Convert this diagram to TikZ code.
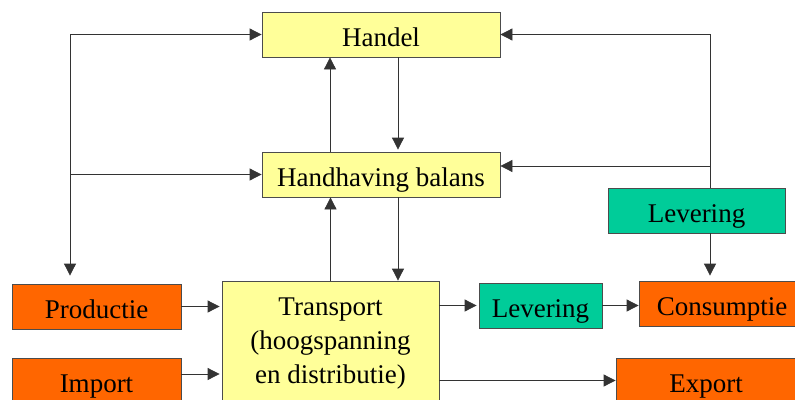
\documentclass[tikz,border=0pt]{standalone}
\usepackage{fontspec}
\setmainfont{Liberation Serif}
\usetikzlibrary{arrows.meta}
\definecolor{boxyellow}{HTML}{FFFF99}
\definecolor{boxorange}{HTML}{FF6600}
\definecolor{boxgreen}{HTML}{00CC99}
\begin{document}
\begin{tikzpicture}[x=1pt,y=-1pt,line width=0.8pt,>={Triangle[length=12pt,width=12pt]},
  box/.style={draw=black!70,line width=0.8pt,minimum height=45pt,inner sep=0pt,
    font={\fontsize{27}{34}\selectfont}},
  single/.style={text height=23pt,text depth=0pt},
  yellowbox/.style={box,fill=boxyellow},
  orangebox/.style={box,single,fill=boxorange},
  greenbox/.style={box,single,fill=boxgreen},
  link/.style={draw=black!80,->}]
\useasboundingbox (0,0) rectangle (795,399);
\clip (0,0) rectangle (795,399);
% trade and balance
\node[yellowbox,single,minimum width=238pt] (handel) at (381,34.5) {Handel};
\node[yellowbox,single,minimum width=238pt] (balans) at (381,174.5) {Handhaving balans};
% network
\node[yellowbox,minimum width=217pt,minimum height=126pt,align=center] (transport) at (330.5,344)
  {Transport\\(hoogspanning\\en distributie)};
\node[orangebox,minimum width=169pt] (productie) at (96.5,306.5) {Productie};
\node[orangebox,minimum width=169pt] (import) at (96.5,380.5) {Import};
\node[greenbox,minimum width=123pt] (levmid) at (540.5,305.5) {Levering};
\node[orangebox,minimum width=166pt] (consumptie) at (722,303.5) {Consumptie};
\node[orangebox,minimum width=180pt] (export) at (706,380.5) {Export};
\node[greenbox,minimum width=177pt] (levtop) at (696.5,210.5) {Levering};
% left bus
\coordinate (busL) at (70,174.5);
\draw[link] (busL) |- (handel.west);
\draw[link] (busL) -- (balans.west);
\draw[link] (busL) -- ([yshift=8pt]busL |- productie.north);
% right bus
\coordinate (busR) at (710,166);
\draw[link] (busR) |- (handel.east);
\draw[link] (busR) -- (busR -| balans.east);
\draw[draw=black!80] (levtop.north -| busR) -- (busR);
\draw[link] (levtop.south -| busR) -- ([yshift=5pt]busR |- consumptie.north);
% vertical links
\draw[link] ([xshift=-51pt]balans.north) -- ([xshift=-51pt]handel.south);
\draw[link] ([xshift=17pt]handel.south) -- ([xshift=17pt,yshift=2pt]balans.north);
\draw[link] (transport.north) -- (transport.north |- balans.south);
\draw[link] ([xshift=17pt]balans.south) -- ([xshift=17pt]balans.south |- transport.north);
% horizontal links
\draw[link] (productie.east) -- ([xshift=-2pt]productie.east -| transport.west);
\draw[link] ([yshift=6.5pt]import.east) -- ([yshift=6.5pt,xshift=-2pt]import.east -| transport.west);
\draw[link] (levmid.west -| transport.east) -- ([xshift=-2pt]levmid.west);
\draw[link] (levmid.east) -- (levmid.east -| consumptie.west);
\draw[link] (export.west -| transport.east) -- (export.west);
\end{tikzpicture}
\end{document}
